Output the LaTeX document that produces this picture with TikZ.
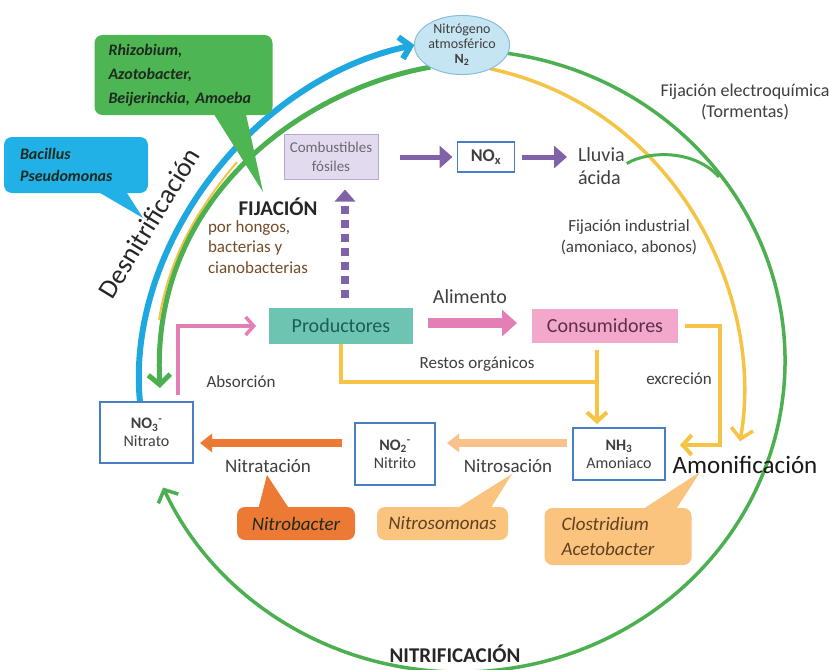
\documentclass[tikz,border=0pt]{standalone}
\usepackage{fontspec}
\setmainfont{Carlito}
\usetikzlibrary{arrows.meta,calc,shapes.geometric}
\newcommand{\fsz}[2]{\fontsize{#1}{#2}\selectfont}
\definecolor{bluearc}{HTML}{1FA8E0}
\definecolor{greenarc}{HTML}{4CAF50}
\definecolor{yel}{HTML}{F6C445}
\definecolor{boxblue}{HTML}{4A7EC4}
\definecolor{n2fill}{HTML}{C5E5F3}
\definecolor{n2line}{HTML}{86BEDB}
\definecolor{calgreen}{HTML}{4DB551}
\definecolor{calblue}{HTML}{21B1E6}
\definecolor{combfill}{HTML}{E2DAEF}
\definecolor{combline}{HTML}{B7A9D2}
\definecolor{combtext}{HTML}{6E6872}
\definecolor{purp}{HTML}{8162A8}
\definecolor{prodfill}{HTML}{6CC4B1}
\definecolor{prodtext}{HTML}{1D5E54}
\definecolor{consfill}{HTML}{F3A7CB}
\definecolor{constext}{HTML}{5B3049}
\definecolor{pinkarr}{HTML}{E47FB5}
\definecolor{orng}{HTML}{EC7A35}
\definecolor{lorng}{HTML}{F9C18C}
\definecolor{calorng}{HTML}{FAC47E}
\definecolor{txt}{HTML}{3F3F3F}
\definecolor{calltxt}{HTML}{1E2A20}
\pgfdeclarelayer{bg}
\pgfsetlayers{bg,main}
\tikzset{
  every node/.style={inner sep=0pt, outer sep=0pt},
  chembox/.style={draw=boxblue, line width=1.6pt, fill=white, align=center, text=txt, font=\fsz{16}{18}},
  callbox/.style={rounded corners=8pt, align=left},
  lbl/.style={text=txt, align=center},
  barb/.style={-{Straight Barb[length=10pt,width=22pt]}},
  arcline/.style={line width=#1, barb},
  thickarr/.style={line width=#1, -{Triangle[length=13pt,width=22pt]}},
}
\begin{document}
\begin{tikzpicture}[x=1pt,y=-1pt]
\useasboundingbox (0,0) rectangle (829,669);

% ---------- nodes ----------
\node[ellipse, draw=n2line, fill=n2fill, line width=1pt, minimum width=95, minimum height=56,
      align=center, text=txt, font=\fsz{14}{15}] (n2) at (462,45)
      {Nitrógeno\\atmosférico\\\textbf{N\textsubscript{2}}};

\node[callbox, fill=calgreen, minimum width=177, minimum height=80, text width=150,
      inner xsep=14, text=calltxt, font=\bfseries\itshape\fsz{16}{24}] (rhiz) at (183.5,75)
      {Rhizobium,\\Azotobacter,\\Beijerinckia, Amoeba};
\fill[calgreen] ([shift={(29,-3)}]rhiz.south) -- (263,192) -- ([shift={(62,-3)}]rhiz.south) -- cycle;

\node[callbox, fill=calblue, minimum width=128, minimum height=56, text width=112,
      inner xsep=16, text=calltxt, font=\bfseries\itshape\fsz{16}{22}] (bac) at (76,165)
      {Bacillus\\Pseudomonas};
\fill[calblue] ([shift={(19,-3)}]bac.south) -- (143,218) -- ([shift={(49,-3)}]bac.south) -- cycle;

\node[rotate=58.5, text=black!85, font=\fsz{27}{30}] (desn) at (149,223) {Desnitrificación};

\node[draw=combline, fill=combfill, line width=1pt, minimum width=94, minimum height=45,
      align=center, text=combtext, font=\fsz{15}{19}] (comb) at (331,157)
      {Combustibles\\fósiles};
\node[chembox, minimum width=57, minimum height=30, font=\bfseries\fsz{18}{20}] (nox) at (486,157)
      {NO\textsubscript{x}};
\node[anchor=west, align=left, text=txt, font=\fsz{20}{23}] (lluvia) at (578,166.5) {Lluvia\\ácida};

\node[text=black!85, font=\bfseries\fsz{21}{24}] (fij) at (278,207) {FIJACIÓN};
\node[anchor=west, align=left, text=brown!60!black, font=\fsz{17}{20.5}] (porh) at (208,247)
      {por hongos,\\bacterias y\\cianobacterias};

\node[lbl, font=\fsz{18}{21}] (felec) at (745,102) {Fijación electroquímica\\(Tormentas)};
\node[lbl, font=\fsz{17}{21}] (find) at (629,237) {Fijación industrial\\(amoniaco, abonos)};

\node[lbl, font=\fsz{20}{22}] (alim) at (470,297) {Alimento};
\node[fill=prodfill, minimum width=144, minimum height=36, text=prodtext, font=\fsz{20}{22}] (prod) at (341,326) {Productores};
\node[fill=consfill, minimum width=146, minimum height=34, text=constext, font=\fsz{20}{22}] (cons) at (605,326) {Consumidores};

\node[lbl, font=\fsz{17}{19}] (restos) at (477,364) {Restos orgánicos};
\node[lbl, font=\fsz{17}{19}] (excr) at (679,379) {excreción};
\node[lbl, font=\fsz{17}{19}] (absor) at (241,382) {Absorción};

\node[chembox, minimum width=93, minimum height=61] (no3) at (146.5,432.5)
      {\textbf{NO\textsubscript{3}\textsuperscript{-}}\\Nitrato};
\node[chembox, minimum width=80, minimum height=62] (no2) at (395,454)
      {\textbf{NO\textsubscript{2}\textsuperscript{-}}\\Nitrito};
\node[chembox, minimum width=92, minimum height=52] (nh3) at (619,454)
      {\textbf{NH\textsubscript{3}}\\Amoniaco};

\node[lbl, font=\fsz{19}{21}] (nitrat) at (268,466) {Nitratación};
\node[lbl, font=\fsz{19}{21}] (nitros) at (508,466) {Nitrosación};
\node[text=black!90, font=\fsz{25}{27}] (amon) at (745,465) {Amonificación};

\node[callbox, fill=orng, minimum width=118, minimum height=33, align=center,
      text=calltxt, font=\itshape\fsz{19}{21}] (nb) at (296,523.5) {Nitrobacter};
\fill[orng] ([shift={(-38,3)}]nb.north) -- (267,475) -- ([shift={(-6,3)}]nb.north) -- cycle;

\node[callbox, fill=calorng, minimum width=131, minimum height=33, align=center,
      text=brown!50!black, font=\itshape\fsz{19}{21}] (ns) at (442.5,523.5) {Nitrosomonas};
\fill[calorng] ([shift={(12,3)}]ns.north) -- (512,474) -- ([shift={(47,3)}]ns.north) -- cycle;

\node[callbox, fill=calorng, minimum width=130, minimum height=57, text width=113,
      inner xsep=17, text=brown!50!black, font=\itshape\fsz{19}{25}] (cl) at (618,536.5)
      {Clostridium\\Acetobacter};
\fill[calorng] ([shift={(22,3)}]cl.north) -- (700,472) -- ([shift={(57,3)}]cl.north) -- cycle;

\node[text=black!85, font=\bfseries\fsz{21}{24}] (nitrif) at (455,654) {NITRIFICACIÓN};

% ---------- cycle arcs (behind) ----------
\begin{pgfonlayer}{bg}
\fill[white] (0,0) rectangle (829,669);
\coordinate (C) at (460,361);
\draw[greenarc, arcline=3.5pt] ($(C)+(-82:325 and 311)$)
     arc[start angle=-82, end angle=156, x radius=325, y radius=311];
\draw[yel, line width=2pt] (237,162) .. controls (205,200) and (170,250) .. (159,320);
\draw[bluearc, arcline=6pt] ([xshift=-6.5]no3.north) .. controls (125,250) and (250,80) .. (n2.west);
\draw[greenarc, arcline=5pt] (n2.215) .. controls (300,90) and (150,200) .. ([shift={(13.5,-14)}]no3.north);
\draw[yel, arcline=3.5pt] (n2.-40) .. controls (680,110) and (765,300) .. ([shift={(-5,-15)}]amon.north);
\draw[greenarc, line width=3pt] ([shift={(2,-3)}]lluvia.east) .. controls (650,150) and (695,150) .. (719,177);
\end{pgfonlayer}

% ---------- connectors ----------
\draw[purp, thickarr=5pt] ($(comb.east)+(22,0)$) -- ($(nox.west)+(-5,0)$);
\draw[purp, thickarr=5pt] ($(nox.east)+(7,0)$) -- ($(lluvia.west)+(-11,-9.5)$);
\draw[purp, line width=8pt, dash pattern=on 8pt off 6pt, -{Triangle[length=12pt,width=20pt]}]
     ($(prod.north)+(4,-10)$) -- ($(comb.south)+(14,10)$);
\draw[pinkarr, line width=10pt, -{Triangle[length=15pt,width=26pt]}]
     ($(prod.east)+(15,-3)$) -- ($(cons.west)+(-15,-3)$);
\draw[pinkarr, line width=3.5pt, -{Straight Barb[length=8pt,width=18pt]}]
     ($(no3.north)+(31.5,-7)$) |- ($(prod.west)+(-13,0)$);
\draw[yel, line width=4pt] (prod.south) |- ($(cons.south)+(-8,39)$);
\draw[yel, line width=4pt, -{Straight Barb[length=9pt,width=20pt]}]
     ($(cons.south)+(-8,7)$) -- ($(nh3.north)+(-22,-4)$);
\draw[yel, line width=4pt, -{Straight Barb[length=9pt,width=20pt]}]
     ($(cons.east)+(7,0)$) -| ($(nh3.east)+(55,-9)$) -- ($(nh3.east)+(15,-9)$);
\draw[orng, line width=8pt, -{Triangle[length=12pt,width=18pt]}]
     ($(no2.west)+(-13,-11)$) -- ($(no3.east)+(7,10.5)$);
\draw[lorng, line width=8pt, -{Triangle[length=12pt,width=18pt]}]
     ($(nh3.west)+(-6,-11)$) -- ($(no2.east)+(12,-11)$);
\end{tikzpicture}
\end{document}
